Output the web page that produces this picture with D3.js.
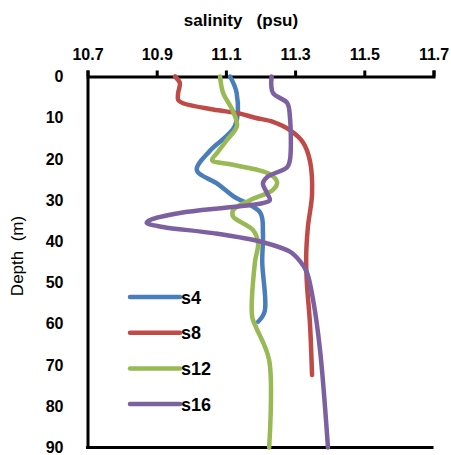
<!DOCTYPE html>
<html>
<head>
<meta charset="utf-8">
<script src="https://cdn.jsdelivr.net/npm/d3@7"></script>
<style>
  body { margin: 0; background: #fff; }
  svg text { font-family: "Liberation Sans", Arial, sans-serif; }
  .axis path, .axis line { stroke: #000; stroke-width: 3; }
  .axis text { font-size: 16px; font-weight: bold; fill: #000; }
</style>
</head>
<body>
<div id="chart"></div>
<script>
// station names and colours
var stations = ["s4", "s8", "s12", "s16"];
var colors = ["#4a7ebb", "#be4b48", "#98b954", "#7d60a0"];

// x ticks
var salTicks = [10.7, 10.9, 11.1, 11.3, 11.5, 11.7];
var depthTicks = [0, 10, 20, 30, 40, 50, 60, 70, 80, 90];

// profiles: depth (m) and salinity (psu)
var s4Depth = [0, 4, 12, 18, 22.7, 26, 29, 33, 38, 45, 57, 59.5];
var s4Sal   = [11.112, 11.131, 11.126, 11.054, 11.016, 11.075, 11.121, 11.199, 11.207, 11.205, 11.212, 11.193];

var s8Depth = [0, 1.6, 4, 5.7, 6.5, 8, 9, 10, 11, 13, 16, 20.5, 28.5, 36.5, 43.8, 50, 60, 72.4];
var s8Sal   = [10.953, 10.967, 10.962, 10.962, 10.976, 11.063, 11.141, 11.184, 11.236, 11.285, 11.323, 11.343, 11.349, 11.337, 11.332, 11.334, 11.343, 11.349];

var s12Depth = [0, 4, 8, 12, 15.4, 18.6, 20.3, 21.3, 22.5, 23.7, 25.6, 27.5, 30, 32.4, 34, 37.2, 40.4, 45, 58.3, 60.8, 68.8, 90];
var s12Sal   = [11.083, 11.092, 11.118, 11.132, 11.103, 11.074, 11.06, 11.112, 11.184, 11.227, 11.248, 11.236, 11.17, 11.121, 11.121, 11.178, 11.193, 11.184, 11.176, 11.187, 11.225, 11.225];

var s16Depth = [0, 4, 6.4, 9.8, 20.3, 22, 24.4, 25.9, 28.3, 30, 30.7, 31.7, 33.1, 34.8, 35.5, 36.5, 38, 40.2, 42.5, 44.8, 47.5, 54.2, 66.3, 90];
var s16Sal   = [11.232, 11.236, 11.277, 11.285, 11.285, 11.277, 11.219, 11.207, 11.219, 11.227, 11.207, 11.112, 10.967, 10.881, 10.871, 10.918, 11.063, 11.207, 11.285, 11.314, 11.334, 11.352, 11.372, 11.395];

var depths = [s4Depth, s8Depth, s12Depth, s16Depth];
var sals = [s4Sal, s8Sal, s12Sal, s16Sal];

var width = 451, height = 455;
var margin = { top: 76.5, right: 17.5, bottom: 7.5, left: 87.5 };

var svg = d3.select("#chart").append("svg")
    .attr("width", width)
    .attr("height", height);

var x = d3.scaleLinear()
    .domain([10.7, 11.7])
    .range([margin.left, width - margin.right]);

var y = d3.scaleLinear()
    .domain([0, 90])
    .range([margin.top, height - margin.bottom]);

// top axis with ticks pointing up
svg.append("g")
    .attr("class", "axis")
    .attr("transform", "translate(0," + y(0) + ")")
    .call(d3.axisTop(x).tickValues(salTicks).tickFormat(d3.format(".1f"))
      .tickSize(6).tickSizeOuter(6).tickPadding(10.5));

// left axis, labels only
svg.append("g")
    .attr("class", "axis")
    .attr("transform", "translate(" + x(10.7) + ",0)")
    .call(d3.axisLeft(y).tickValues(depthTicks).tickSize(0).tickSizeOuter(0).tickPadding(24));

// bottom edge
svg.append("line")
    .attr("x1", x(10.7) - 1.5).attr("x2", x(11.7))
    .attr("y1", y(90)).attr("y2", y(90))
    .attr("stroke", "#000").attr("stroke-width", 3);

// titles
svg.append("text")
    .attr("x", 241).attr("y", 26)
    .attr("text-anchor", "middle")
    .style("font-size", "17px").style("font-weight", "bold")
    .style("white-space", "pre")
    .text("salinity   (psu)");

svg.append("text")
    .attr("transform", "translate(23,256) rotate(-90)")
    .attr("text-anchor", "middle")
    .style("font-size", "17px")
    .style("white-space", "pre")
    .text("Depth  (m)");

var line = d3.line()
    .x(function(d) { return x(d[1]); })
    .y(function(d) { return y(d[0]); })
    .curve(d3.curveCatmullRom.alpha(0.5));

stations.forEach(function(name, i) {
  var pts = d3.zip(depths[i], sals[i]);
  svg.append("path")
      .datum(pts)
      .attr("fill", "none")
      .attr("stroke", colors[i])
      .attr("stroke-width", 4.5)
      .attr("stroke-linejoin", "round")
      .attr("stroke-linecap", "round")
      .attr("d", line);
});

// legend
var legend = svg.selectAll(".legend")
    .data(stations)
  .enter().append("g")
    .attr("class", "legend")
    .attr("transform", function(d, i) { return "translate(130," + (297 + i * 35.7) + ")"; });

legend.append("line")
    .attr("x1", 0).attr("x2", 50)
    .attr("stroke", function(d, i) { return colors[i]; })
    .attr("stroke-width", 4.5)
    .attr("stroke-linecap", "round");

legend.append("text")
    .attr("x", 51).attr("y", 6.5)
    .style("font-size", "18px").style("font-weight", "bold")
    .text(function(d) { return d; });
</script>
</body>
</html>
